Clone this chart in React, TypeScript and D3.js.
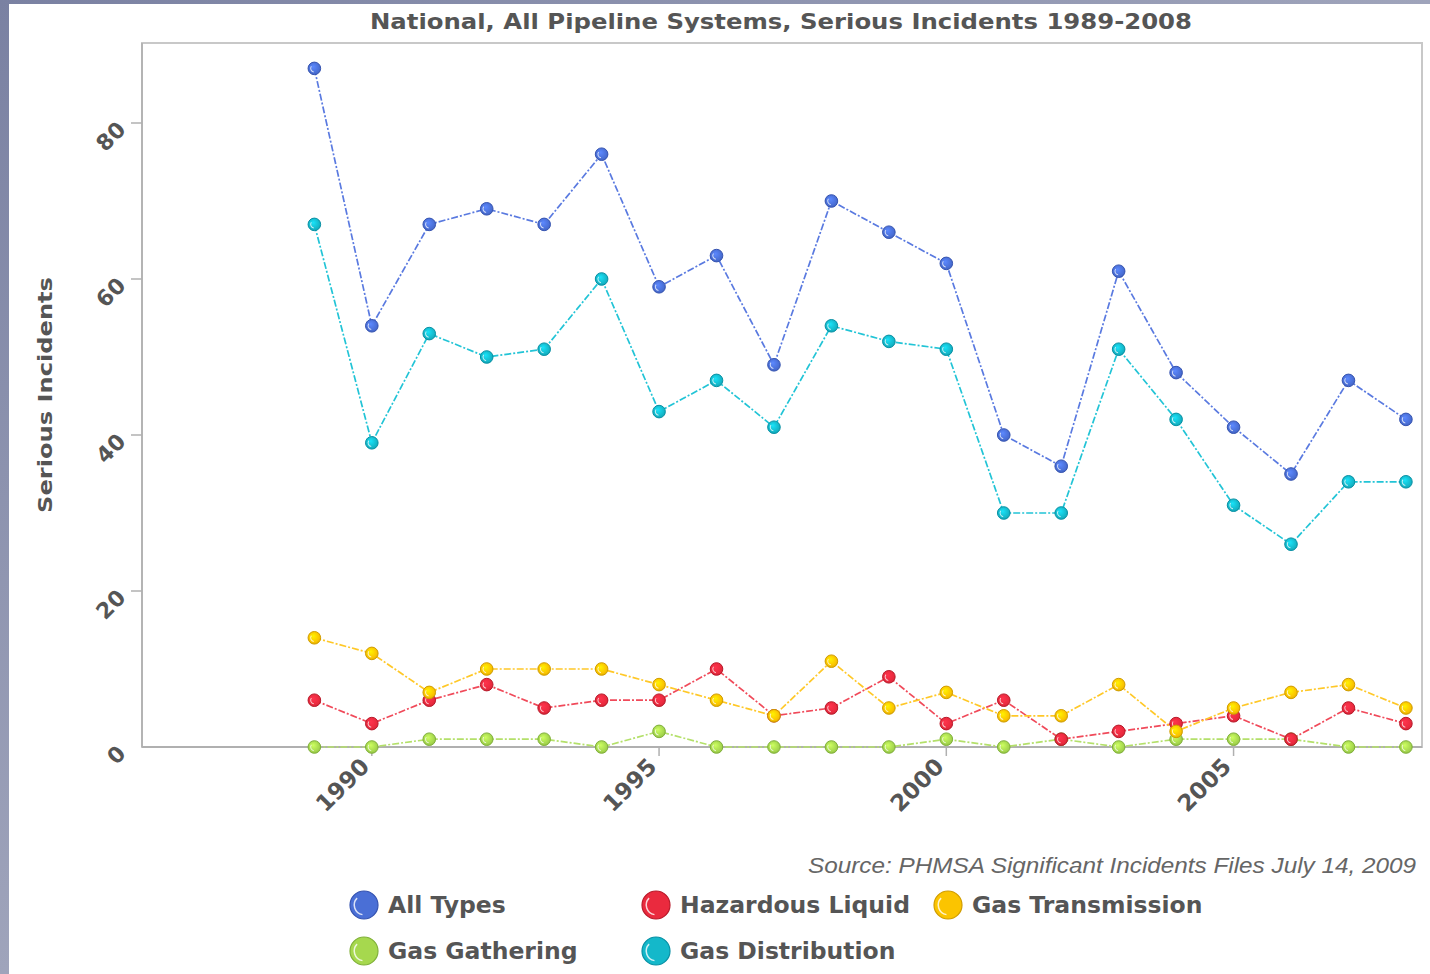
import React from "react";
import * as d3 from "d3";

const years = [1989, 1990, 1991, 1992, 1993, 1994, 1995, 1996, 1997, 1998, 1999, 2000, 2001, 2002, 2003, 2004, 2005, 2006, 2007, 2008];
const allTypes = [87, 54, 67, 69, 67, 76, 59, 63, 49, 70, 66, 62, 40, 36, 61, 48, 41, 35, 47, 42];
const gasDistribution = [67, 39, 53, 50, 51, 60, 43, 47, 41, 54, 52, 51, 30, 30, 51, 42, 31, 26, 34, 34];
const gasTransmission = [14, 12, 7, 10, 10, 10, 8, 6, 4, 11, 5, 7, 4, 4, 8, 2, 5, 7, 8, 5];
const hazardousLiquid = [6, 3, 6, 8, 5, 6, 6, 10, 4, 5, 9, 3, 6, 1, 2, 3, 4, 1, 5, 3];
const gasGathering = [0, 0, 1, 1, 1, 0, 2, 0, 0, 0, 0, 1, 0, 1, 0, 1, 1, 1, 0, 0];
const yTicks = [0, 20, 40, 60, 80];
const xTicks = [1990, 1995, 2000, 2005];

const title = "National, All Pipeline Systems, Serious Incidents 1989-2008";
const yTitle = "Serious Incidents";
const source = "Source: PHMSA Significant Incidents Files July 14, 2009";

const series = [
  { key: "all", name: "All Types", values: allTypes, fill: "#4a6fd6", stroke: "#3553b0", line: "#5a7ae0" },
  { key: "haz", name: "Hazardous Liquid", values: hazardousLiquid, fill: "#ea2a3e", stroke: "#b81a2a", line: "#f04a5a" },
  { key: "trans", name: "Gas Transmission", values: gasTransmission, fill: "#fbc400", stroke: "#d09c00", line: "#ffc828" },
  { key: "gath", name: "Gas Gathering", values: gasGathering, fill: "#a6d84e", stroke: "#80b03a", line: "#b4e06a" },
  { key: "dist", name: "Gas Distribution", values: gasDistribution, fill: "#14b8ca", stroke: "#0890a4", line: "#22c4d6" },
];
const drawOrder = ["gath", "haz", "trans", "dist", "all"];

const legendItems = [
  { key: "all", col: 0, row: 0 },
  { key: "haz", col: 1, row: 0 },
  { key: "trans", col: 2, row: 0 },
  { key: "gath", col: 0, row: 1 },
  { key: "dist", col: 1, row: 1 },
];

export default function App() {
  const W = 1430, H = 974;
  const plot = { left: 142, right: 1422, top: 43, bottom: 747 };
  const x = d3.scaleLinear().domain([1986, 2008.28]).range([plot.left, plot.right]);
  const y = d3.scaleLinear().domain([0, 80]).range([plot.bottom, 123]);
  const line = d3.line<number>().x((_, i) => x(years[i])).y((v) => y(v));
  const byKey: Record<string, typeof series[number]> = {};
  series.forEach((s) => (byKey[s.key] = s));
  const txt = "#555555";
  const boldFont = "'DejaVu Sans', Verdana, sans-serif";

  return (
    <div style={{ position: "absolute", left: 0, top: 0 }}>
      <svg width={W} height={H} style={{ display: "block" }}>
        <defs>
          <linearGradient id="bg" x1="0" y1="0" x2="1" y2="1">
            <stop offset="0%" stopColor="#7a81a2" />
            <stop offset="100%" stopColor="#c4c7d4" />
          </linearGradient>
          {series.map((s) => (
            <radialGradient key={s.key} id={"g-" + s.key} cx="0.5" cy="0.45" r="0.6" fx="0.4" fy="0.35">
              <stop offset="0%" stopColor={d3.color(s.fill)!.brighter(0.6).formatHex()} />
              <stop offset="70%" stopColor={s.fill} />
              <stop offset="100%" stopColor={d3.color(s.fill)!.darker(0.4).formatHex()} />
            </radialGradient>
          ))}
        </defs>
        <rect x={0} y={0} width={W} height={H} fill="url(#bg)" />
        <rect x={9} y={4} width={W - 9} height={H - 4} fill="#ffffff" />

        <text x={781} y={29} textAnchor="middle" fontFamily={boldFont} fontWeight="bold" fontSize={21} fill={txt} textLength={822} lengthAdjust="spacingAndGlyphs">
          {title}
        </text>

        {/* plot frame */}
        <rect x={plot.left} y={plot.top} width={plot.right - plot.left} height={plot.bottom - plot.top} fill="none" stroke="#c8c8c8" strokeWidth={2} />
        <line x1={plot.left} x2={plot.left} y1={plot.top} y2={plot.bottom} stroke="#b4b4b4" strokeWidth={2} />
        <line x1={plot.left} x2={plot.right} y1={plot.bottom} y2={plot.bottom} stroke="#b0b0b0" strokeWidth={2} />

        {yTicks.map((t) => (
          <g key={"y" + t}>
            {t !== 0 && <line x1={plot.left - 11} x2={plot.left} y1={y(t)} y2={y(t)} stroke="#b0b0b0" strokeWidth={1.5} />}
            <text transform={`translate(127,${y(t) + 8}) rotate(-45)`} textAnchor="end" fontFamily={boldFont} fontWeight="bold" fontSize={22} fill={txt}>
              {t}
            </text>
          </g>
        ))}
        {xTicks.map((t) => (
          <g key={"x" + t}>
            <line x1={x(t)} x2={x(t)} y1={plot.bottom} y2={plot.bottom + 9} stroke="#b0b0b0" strokeWidth={1.5} />
            <text transform={`translate(${x(t) - 1},${plot.bottom + 21}) rotate(-45)`} textAnchor="end" fontFamily={boldFont} fontWeight="bold" fontSize={23} fill={txt}>
              {t}
            </text>
          </g>
        ))}

        <text transform="translate(52,395) rotate(-90)" textAnchor="middle" fontFamily={boldFont} fontWeight="bold" fontSize={20} fill={txt} textLength={236} lengthAdjust="spacingAndGlyphs">
          {yTitle}
        </text>

        {drawOrder.map((k) => {
          const s = byKey[k];
          return (
            <g key={"l" + k}>
              <path d={line(s.values) || ""} fill="none" stroke={s.line} strokeWidth={1.7} strokeDasharray="7,2,2,2" />
            </g>
          );
        })}
        {drawOrder.map((k) => {
          const s = byKey[k];
          return (
            <g key={"m" + k}>
              {s.values.map((v, i) => (
                <g key={i}>
                  <circle cx={x(years[i])} cy={y(v)} r={6.3} fill={`url(#g-${s.key})`} stroke={s.stroke} strokeWidth={1} />
                  <path d={d3.arc()({ innerRadius: 3.2, outerRadius: 4.2, startAngle: Math.PI * 1.05, endAngle: Math.PI * 1.7 }) || ""} transform={`translate(${x(years[i])},${y(v)})`} fill="#ffffff" opacity={0.75} />
                </g>
              ))}
            </g>
          );
        })}

        <text x={1416} y={873} textAnchor="end" fontFamily="'Liberation Sans', Arial, sans-serif" fontStyle="italic" fontSize={22} fill="#666666" textLength={608} lengthAdjust="spacingAndGlyphs">
          {source}
        </text>

        {legendItems.map((it) => {
          const s = byKey[it.key];
          const cx = 364 + it.col * 292;
          const cy = 905 + it.row * 46;
          return (
            <g key={"lg" + it.key}>
              <circle cx={cx} cy={cy} r={14} fill={s.fill} stroke={s.stroke} strokeWidth={1.2} />
              <path d={d3.arc()({ innerRadius: 9, outerRadius: 10.5, startAngle: Math.PI * 1.05, endAngle: Math.PI * 1.75 }) || ""} transform={`translate(${cx},${cy})`} fill="#ffffff" opacity={0.8} />
              <text x={cx + 24} y={cy + 8} fontFamily={boldFont} fontWeight="bold" fontSize={23.5} fill={txt}>
                {s.name}
              </text>
            </g>
          );
        })}
      </svg>
    </div>
  );
}
